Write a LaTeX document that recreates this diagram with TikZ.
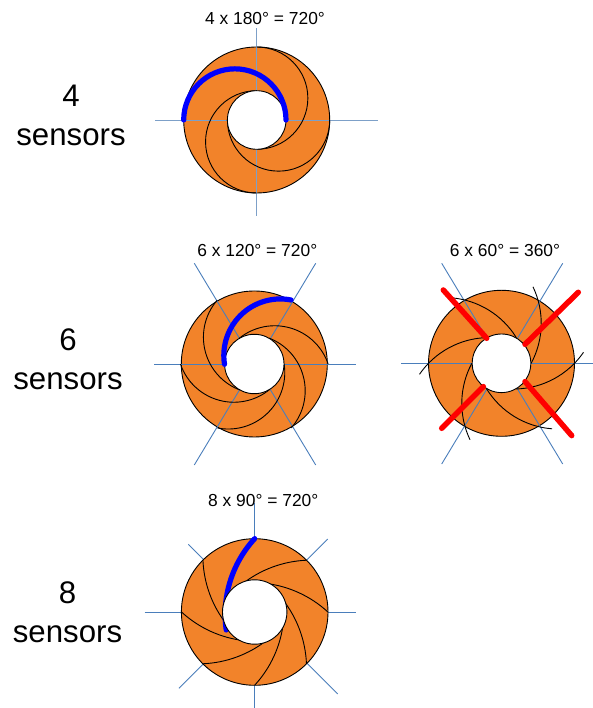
\documentclass[tikz,border=0pt]{standalone}
\usepackage{fontspec}
\setmainfont{Liberation Sans}
\usepackage{xcolor}
\definecolor{wheelorange}{RGB}{242,131,42}
\definecolor{spokeblue}{RGB}{74,126,187}
\definecolor{spokelight}{RGB}{125,160,200}
\begin{document}
\begin{tikzpicture}[
  x=1pt, y=1pt,
  disk/.style={draw=black, fill=wheelorange, line width=0.9pt},
  hole/.style={draw=black, fill=white, line width=0.9pt},
  spoke/.style={spokeblue, line width=0.9pt},
  vane/.style={black, line width=0.9pt},
  sweep/.style={blue, line width=5.2pt, line cap=round},
  cross/.style={red, line width=5.5pt, line cap=round},
  rowlabel/.style={align=center, font=\fontsize{31.2}{39}\selectfont},
  sumlabel/.style={font=\fontsize{17.4}{18}\selectfont}
]
\useasboundingbox (0,0) rectangle (593,708);

% 4 sensors
\begin{scope}[shift={(256.7,588)}]
  \draw[disk] (0,0) circle (73);
  \draw[spoke, spokelight] (-101.4,0) -- (121.3,0);
  \draw[spoke, spokelight] (0,91.7) -- (0,-96);
  \foreach \a in {0,90,180,270}
    \draw[vane, rotate=\a] (-73,0) arc[start angle=180, delta angle=-180, radius=51.15];
  \draw[hole] (0,0) circle (29.3);
  \draw[sweep] (-73,0) arc[start angle=180, delta angle=-180, radius=51.15];
\end{scope}

% 6 sensors, 120 degrees
\begin{scope}[shift={(254.3,344)}]
  \draw[disk] (0,0) circle (73);
  \draw[spoke] (-100.3,0) -- (101.7,0);
  \draw[spoke] (-60,100.7) -- (61.4,-101);
  \draw[spoke] (61.4,100.7) -- (-60,-101);
  \foreach \a in {0,60,...,300}
    \draw[vane, rotate=\a] (36.8,64) arc[start angle=79, delta angle=110, radius=56.5];
  \draw[hole] (0,0) circle (29.7);
  \draw[sweep] (36.8,64) arc[start angle=79, delta angle=110, radius=56.5];
\end{scope}

% 6 sensors, 60 degrees
\begin{scope}[shift={(501.5,344.7)}]
  \draw[disk] (0,0) circle (73);
  \draw[spoke] (-100.5,0) -- (91.5,0);
  \draw[spoke] (-59.8,100) -- (61.2,-100.7);
  \draw[spoke] (61.2,100) -- (-59.8,-100.7);
  \foreach \a in {0,60,...,300}
    \draw[vane, rotate=\a] (-82,-11) arc[start angle=145.5, delta angle=-53.8, radius=84.7];
  \draw[hole] (0,0) circle (29.3);
  \draw[cross] (-58.2,73.3) -- (-14.8,25);
  \draw[cross] (76.8,71) -- (23.5,19);
  \draw[cross] (70.2,-72.3) -- (23.5,-18.3);
  \draw[cross] (-59.8,-65) -- (-18.2,-23.3);
\end{scope}

% 8 sensors
\begin{scope}[shift={(254.7,96)}]
  \draw[spoke] (0,108.7) -- (0,-95.7);
  \draw[spoke] (-110,0) -- (101,0);
  \draw[spoke] (73,73) -- (-75.7,-76.3);
  \draw[spoke] (-66.3,67.7) -- (83,-82);
  \draw[disk] (0,0) circle (73.3);
  \foreach \a in {0,45,...,315}
    \draw[vane, rotate=\a] (73.2,0) arc[start angle=47.4, delta angle=36, radius=111.3];
  \draw[sweep, rotate=90] (73.4,0) arc[start angle=47.4, delta angle=50.6, radius=112];
  \draw[hole] (0,0) circle (32.2);
\end{scope}

\node[sumlabel] (sum4) at (265,689.7) {4 x 180° = 720°};
\node[sumlabel] (sum6) at (257.3,457.3) {6 x 120° = 720°};
\node[sumlabel] (sum6b) at (505,457.3) {6 x 60° = 360°};
\node[sumlabel] (sum8) at (263.3,207.3) {8 x 90° = 720°};

\node[rowlabel] (row4) at (71,592.5) {4\\sensors};
\node[rowlabel] (row6) at (68,348.5) {6\\sensors};
\node[rowlabel] (row8) at (67.5,95.5) {8\\sensors};
\end{tikzpicture}
\end{document}
